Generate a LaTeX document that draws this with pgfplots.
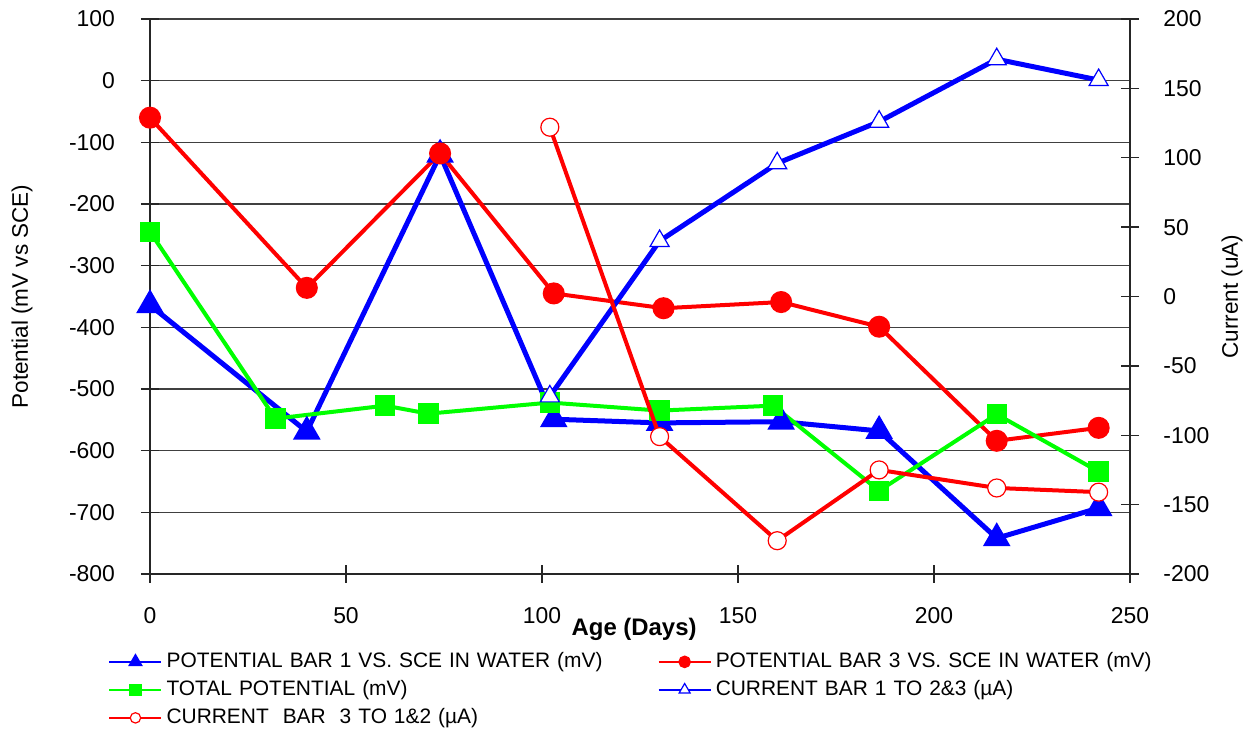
\documentclass[border=0pt]{standalone}
\usepackage{fontspec}
\setmainfont{Liberation Sans}
\usepackage{pgfplots}
\pgfplotsset{compat=1.18}

\definecolor{xlblue}{RGB}{0,0,255}
\definecolor{xlred}{RGB}{255,0,0}
\definecolor{xlgreen}{RGB}{0,255,0}

\pgfplotsset{
  chartbase/.style={
    width=490bp, height=277.5bp, scale only axis,
    at={(75bp,77.5bp)}, anchor=south west,
    xmin=0, xmax=250,
    xtick={0,50,...,250},
    tick align=center,
    major tick length=9bp,
    tick style={black!85, line width=0.7bp},
    axis line style={black!85, line width=0.9bp},
    /pgf/number format/assume math mode=true,
    ticklabel style={font=\fontsize{11.5}{13}\selectfont},
    label style={font=\fontsize{11.3}{13}\selectfont},
    clip=false,
  },
  series/.style={line width=2bp, mark options={solid}},
  keyline/.style={line width=1.1bp, mark options={solid}},
  openmark/.style={mark options={fill=white, draw=#1, line width=0.6bp}},
}

\begin{document}
\begin{tikzpicture}
\useasboundingbox (0,0) rectangle (627bp,364.5bp);

% potentials, left axis (mV)
\begin{axis}[chartbase,
  ymin=-800, ymax=100, ytick={-800,-700,...,100},
  axis x line*=bottom, axis y line*=left,
  ymajorgrids, major grid style={black!75, line width=0.7bp},
  yticklabel style={xshift=-9.5bp},
  xticklabel style={yshift=-8.5bp},
  xlabel={\bfseries Age (Days)},
  xlabel style={at={(axis description cs:0.494,-0.0991)}, anchor=center, font=\fontsize{12}{14}\selectfont},
  ylabel={Potential (mV vs SCE)},
  ylabel style={at={(axis description cs:-0.1306,0.5)}, anchor=center},
]
\addplot[series, line width=2.5bp, color=xlblue, mark=triangle*, mark size=5.5bp] coordinates {
  (0,-364) (40,-569) (74,-120) (103,-549) (130,-555)
  (161,-553) (186,-568) (216,-742) (242,-693)};
\addplot[series, color=xlred, mark=*, mark size=4.5bp] coordinates {
  (0,-60) (40,-336) (74,-118) (103,-345) (131,-369)
  (161,-359) (186,-399) (216,-584) (242,-563)};
\addplot[series, color=xlgreen, mark=square*, mark size=4.1bp] coordinates {
  (0,-245) (32,-548) (60,-527) (71,-540) (102,-522)
  (130,-535) (159,-527) (186,-665) (216,-541) (242,-634)};
\end{axis}

% galvanic currents, right axis (uA), and the key for all five series
\begin{axis}[chartbase,
  ymin=-200, ymax=200, ytick={-200,-150,...,200},
  axis y line*=right, axis x line=none,
  yticklabel style={xshift=8.7bp},
  ylabel={Current (uA)},
  ylabel style={at={(axis description cs:1.104,0.5)}, anchor=center},
  legend columns=2,
  legend cell align=left,
  legend image code/.code={\draw[mark repeat=2, mark phase=2, #1]
    plot coordinates {(0bp,0bp) (13bp,0bp) (26bp,0bp)};},
  legend style={at={(rel axis cs:-0.0429,-0.1387)}, anchor=north west,
    draw=none, fill=none, inner sep=0pt, row sep=3.5bp,
    font=\fontsize{10.5}{12}\selectfont,
    nodes={inner xsep=2bp, inner ysep=0pt, text width=243.5bp,
      text height=8bp, text depth=2.5bp}},
]
\addlegendimage{keyline, color=xlblue, mark=triangle*, mark size=3.2bp}
\addlegendentry{POTENTIAL BAR 1 VS. SCE IN WATER (mV)}
\addlegendimage{keyline, color=xlred, mark=*, mark size=2.6bp}
\addlegendentry{POTENTIAL BAR 3 VS. SCE IN WATER (mV)}
\addlegendimage{keyline, color=xlgreen, mark=square*, mark size=2.5bp}
\addlegendentry{TOTAL POTENTIAL (mV)}
\addlegendimage{keyline, color=xlblue, mark=triangle*, mark size=3.2bp, openmark=xlblue}
\addlegendentry{CURRENT BAR 1 TO 2\&3 (µA)}
\addlegendimage{keyline, color=xlred, mark=*, mark size=2.6bp, openmark=xlred}
\addlegendentry{CURRENT \ BAR \ 3 TO 1\&2 (µA)}

\addplot[series, line width=2.5bp, color=xlblue, mark=triangle*, mark size=5.5bp,
  openmark=xlblue, forget plot] coordinates {
  (102,-72) (130,40) (160,96) (186,126) (216,171) (242,156)};
\addplot[series, color=xlred, mark=*, mark size=4.5bp,
  openmark=xlred, forget plot] coordinates {
  (102,122) (130,-101) (160,-176) (186,-125) (216,-138) (242,-141)};
\end{axis}
\end{tikzpicture}
\end{document}
